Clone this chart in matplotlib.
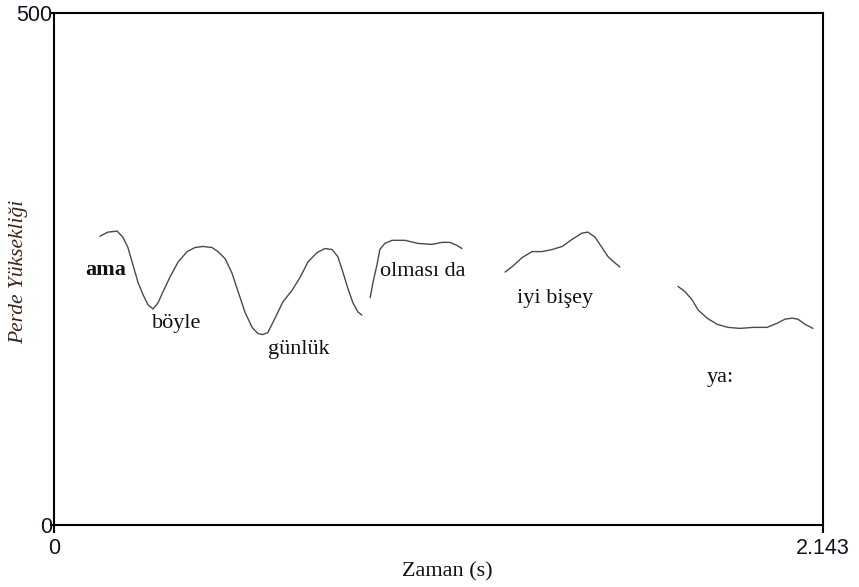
import matplotlib
matplotlib.use("Agg")
import matplotlib.pyplot as plt

# Pitch contour segments (time in s, pitch in Hz)
seg1_t = [0.128, 0.150, 0.176, 0.192, 0.206, 0.220, 0.234, 0.248, 0.262, 0.276, 0.290, 0.304,
          0.323, 0.346, 0.371, 0.393, 0.415, 0.440, 0.457, 0.477, 0.496, 0.513, 0.532, 0.552,
          0.568, 0.582, 0.596, 0.616, 0.638, 0.663, 0.686, 0.708, 0.733, 0.755, 0.775, 0.791,
          0.805, 0.819, 0.833, 0.847, 0.858]
seg1_f = [282, 286, 287, 281, 271, 254, 237, 225, 215, 211, 217, 228,
          242, 257, 267, 271, 272, 271, 267, 260, 246, 228, 208, 193,
          187, 186, 188, 202, 218, 229, 242, 257, 266, 270, 269, 262,
          247, 231, 217, 208, 205]

seg2_t = [0.881, 0.889, 0.900, 0.908, 0.922, 0.942, 0.978, 1.014, 1.053, 1.081, 1.104, 1.123, 1.137]
seg2_f = [222, 237, 254, 269, 275, 278, 278, 275, 274, 276, 276, 273, 270]

seg3_t = [1.257, 1.276, 1.304, 1.332, 1.360, 1.388, 1.416, 1.444, 1.471, 1.488, 1.508, 1.527,
          1.544, 1.563, 1.577]
seg3_f = [247, 252, 261, 267, 267, 269, 272, 279, 285, 286, 281, 271,
          262, 256, 252]

seg4_t = [1.739, 1.758, 1.778, 1.795, 1.820, 1.848, 1.878, 1.912, 1.948, 1.987, 2.015, 2.037,
          2.057, 2.073, 2.093, 2.115]
seg4_f = [233, 228, 220, 210, 202, 196, 193, 192, 193, 193, 197, 201,
          202, 201, 196, 192]

segments = [(seg1_t, seg1_f), (seg2_t, seg2_f), (seg3_t, seg3_f), (seg4_t, seg4_f)]

words = ["ama", "böyle", "günlük", "olması da", "iyi bişey", "ya:"]
word_t = [0.086, 0.273, 0.596, 0.908, 1.290, 1.820]
word_f = [244, 192, 167, 243, 217, 140]
word_bold = [True, False, False, False, False, False]

x_ticks = [0, 2.143]
x_ticklabels = ["0", "2.143"]
y_ticks = [0, 500]
y_ticklabels = ["0", "500"]

fig = plt.figure(figsize=(8.59, 5.87), dpi=100)
ax = fig.add_axes([54 / 859, 62 / 587, 769 / 859, 512 / 587])

for t, f in segments:
    ax.plot(t, f, color="#4a4a4a", linewidth=1.0, solid_capstyle="round",
            solid_joinstyle="round")

for w, t, f, b in zip(words, word_t, word_f, word_bold):
    ax.text(t, f, w, ha="left", va="baseline", fontsize=16,
            family="Liberation Serif", fontweight="bold" if b else "normal",
            color="#111111")

ax.set_xlim(0, 2.143)
ax.set_ylim(0, 500)
ax.set_xticks(x_ticks)
ax.set_xticklabels(x_ticklabels, family="Liberation Sans", fontsize=15.5, color="#111122")
ax.set_yticks(y_ticks)
ax.set_yticklabels(y_ticklabels, family="Liberation Sans", fontsize=15.5, color="#111122")
ax.tick_params(axis="x", direction="out", length=6, width=1.5, pad=3)
ax.tick_params(axis="y", direction="out", length=3, width=1.5, pad=-2)

for s in ax.spines.values():
    s.set_linewidth(1.5)
    s.set_color("black")

ax.set_xlabel("Zaman (s)", family="Liberation Serif", fontsize=16, color="#111111")
ax.xaxis.set_label_coords(0.512, -0.072)
ax.set_ylabel("Perde Yüksekliği", family="Liberation Serif", style="italic",
              fontsize=15.5, color="#3b2418")
ax.yaxis.set_label_coords(-0.034, 0.495)

fig.savefig("out.png", dpi=100)
